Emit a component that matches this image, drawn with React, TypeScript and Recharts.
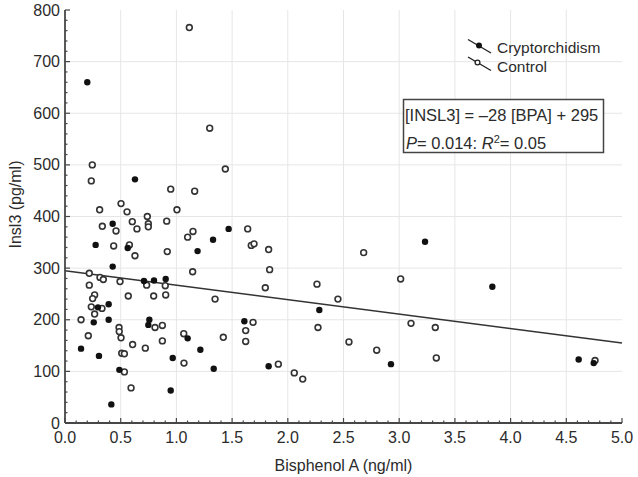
import React from "react";
import {
  ScatterChart,
  Scatter,
  XAxis,
  YAxis,
  CartesianGrid,
  ReferenceLine,
} from "recharts";

// Bisphenol A (ng/ml) vs Insl3 (pg/ml)
const cryptorchidism: [number, number][] = [
  [0.2, 660], [0.628, 472], [0.428, 386], [0.275, 345], [0.563, 339], [1.19, 333],
  [0.428, 303], [0.709, 275], [0.799, 276], [0.904, 279], [0.296, 224], [0.392, 230],
  [0.258, 195], [0.392, 200], [0.144, 144], [0.305, 130], [0.757, 200], [0.748, 190],
  [0.488, 103], [0.416, 36], [0.967, 126], [0.949, 63], [1.101, 164], [1.469, 376],
  [1.329, 355], [1.61, 197], [1.215, 142], [1.335, 105], [1.828, 110], [2.283, 219],
  [3.232, 351], [3.836, 264], [2.926, 114], [4.611, 123], [4.746, 116],
];

const control: [number, number][] = [
  [1.116, 766], [0.245, 500], [0.236, 469], [0.949, 453], [1.164, 449], [0.503, 425],
  [0.311, 413], [0.557, 409], [1.005, 413], [0.739, 400], [0.604, 390], [0.335, 381],
  [0.458, 372], [0.646, 376], [0.748, 386], [0.748, 380], [0.913, 391], [0.437, 343],
  [0.578, 345], [0.628, 324], [0.918, 332], [1.101, 360], [1.149, 371], [1.146, 293],
  [0.218, 290], [0.218, 267], [0.314, 282], [0.344, 278], [0.494, 274], [0.733, 267],
  [0.9, 266], [0.568, 246], [0.796, 246], [0.904, 248], [0.266, 248], [0.248, 241],
  [0.236, 225], [0.332, 222], [0.266, 211], [0.144, 200], [0.209, 169], [0.485, 185],
  [0.487, 177], [0.503, 165], [0.808, 185], [0.874, 189], [0.874, 159], [0.607, 152],
  [0.509, 135], [0.533, 134], [0.721, 145], [0.533, 99], [0.593, 68], [1.068, 116],
  [1.066, 173], [1.299, 571], [1.439, 492], [1.64, 376], [1.672, 344], [1.697, 347],
  [1.828, 336], [1.837, 297], [1.798, 262], [1.347, 240], [2.262, 269], [2.45, 240],
  [2.271, 185], [1.688, 195], [1.622, 179], [1.622, 158], [1.421, 166], [1.915, 114],
  [2.058, 97], [2.134, 85], [2.681, 330], [3.013, 279], [3.106, 193], [3.324, 185],
  [2.549, 157], [2.798, 141], [3.333, 126], [4.758, 121],
];

// Regression: [INSL3] = -28 [BPA] + 295
const regressionSlope = -28;
const regressionIntercept = 295;

const xMajorTicks = [0, 0.5, 1, 1.5, 2, 2.5, 3, 3.5, 4, 4.5, 5];
const yMajorTicks = [0, 100, 200, 300, 400, 500, 600, 700, 800];
const xMinorStep = 0.1;
const yMinorStep = 20;

const xDomain: [number, number] = [0, 5];
const yDomain: [number, number] = [0, 800];

const seriesNames = ["Cryptorchidism", "Control"];
const equationText = "[INSL3] = \u201328 [BPA] + 295";
const pValue = "0.014";
const r2Value = "0.05";

const buildTicks = (min: number, max: number, step: number) => {
  const out: number[] = [];
  const n = Math.round((max - min) / step);
  for (let i = 0; i <= n; i++) out.push(Math.round((min + i * step) * 1000) / 1000);
  return out;
};
const xAllTicks = buildTicks(xDomain[0], xDomain[1], xMinorStep);
const yAllTicks = buildTicks(yDomain[0], yDomain[1], yMinorStep);

const isMajor = (v: number, majors: number[]) => majors.some((m) => Math.abs(m - v) < 1e-6);

const AXIS = "#474747";
const TEXT = "#2b2b2b";
const FONT = "'Liberation Sans', Arial, sans-serif";
const MAJ = 5;
const MIN = 2.5;

const BottomTick = (props: any) => {
  const { x, y, payload } = props;
  const v = payload.value;
  const major = isMajor(v, xMajorTicks);
  return (
    <g>
      <line x1={x} y1={y} x2={x} y2={y - (major ? MAJ : MIN)} stroke={AXIS} strokeWidth={1.2} />
      {major && (
        <text x={x} y={y + 20} textAnchor="middle" fontSize={16} fill={TEXT} fontFamily={FONT}>
          {v.toFixed(1)}
        </text>
      )}
    </g>
  );
};

const TopTick = (props: any) => {
  const { x, y, payload } = props;
  const major = isMajor(payload.value, xMajorTicks);
  return <line x1={x} y1={y} x2={x} y2={y + (major ? MAJ : MIN)} stroke={AXIS} strokeWidth={1.2} />;
};

const LeftTick = (props: any) => {
  const { x, y, payload } = props;
  const v = payload.value;
  const major = isMajor(v, yMajorTicks);
  return (
    <g>
      <line x1={x} y1={y} x2={x + (major ? MAJ : MIN)} y2={y} stroke={AXIS} strokeWidth={1.2} />
      {major && (
        <text x={x - 5} y={y + 5.5} textAnchor="end" fontSize={16} fill={TEXT} fontFamily={FONT}>
          {v}
        </text>
      )}
    </g>
  );
};

const RightTick = (props: any) => {
  const { x, y, payload } = props;
  const major = isMajor(payload.value, yMajorTicks);
  return <line x1={x} y1={y} x2={x - (major ? MAJ : MIN)} y2={y} stroke={AXIS} strokeWidth={1.2} />;
};

const FilledDot = (props: any) => {
  const { cx, cy } = props;
  if (cx == null || cy == null) return null;
  return <circle cx={cx} cy={cy} r={3.2} fill="#111" stroke="none" />;
};

const OpenDot = (props: any) => {
  const { cx, cy } = props;
  if (cx == null || cy == null) return null;
  return <circle cx={cx} cy={cy} r={2.9} fill="#fff" stroke="#333" strokeWidth={1.6} />;
};

const cryptData = cryptorchidism.map(([x, y]) => ({ x, y }));
const controlData = control.map(([x, y]) => ({ x, y }));

const regSegment = [
  { x: xDomain[0], y: regressionIntercept + regressionSlope * xDomain[0] },
  { x: xDomain[1], y: regressionIntercept + regressionSlope * xDomain[1] },
];

const YLabel = (props: any) => {
  const vb = props.viewBox || {};
  const cy = (vb.y || 0) + (vb.height || 0) / 2 - 12;
  return (
    <text
      x={15}
      y={cy}
      transform={`rotate(-90, 15, ${cy})`}
      textAnchor="middle"
      dominantBaseline="central"
      fontSize={16}
      fill={TEXT}
      fontFamily={FONT}
    >
      Insl3 (pg/ml)
    </text>
  );
};

export default function App() {
  return (
    <div style={{ position: "absolute", left: 0, top: 0, width: 638, height: 477, background: "#fff" }}>
      <ScatterChart width={638} height={477} margin={{ top: 10, right: 16, bottom: 0, left: 0 }}>
        <CartesianGrid
          stroke="#e6e6e6"
          strokeWidth={1}
          verticalValues={xMajorTicks.slice(1, -1)}
          horizontalValues={yMajorTicks.slice(1, -1)}
        />
        <XAxis
          dataKey="x"
          type="number"
          domain={xDomain}
          ticks={xAllTicks}
          interval={0}
          height={54}
          tickSize={0}
          tickMargin={0}
          tickLine={false}
          tick={<BottomTick />}
          axisLine={{ stroke: AXIS, strokeWidth: 1.8 }}
          label={{
            value: "Bisphenol A (ng/ml)",
            position: "insideBottom",
            offset: 6,
            fontSize: 16,
            fill: TEXT,
            fontFamily: FONT,
          }}
        />
        <XAxis
          xAxisId="top"
          orientation="top"
          type="number"
          domain={xDomain}
          ticks={xAllTicks}
          interval={0}
          height={0}
          tickSize={0}
          tickMargin={0}
          tickLine={false}
          tick={<TopTick />}
          axisLine={{ stroke: AXIS, strokeWidth: 1.8 }}
        />
        <YAxis
          dataKey="y"
          type="number"
          domain={yDomain}
          ticks={yAllTicks}
          interval={0}
          width={65}
          tickSize={0}
          tickMargin={0}
          tickLine={false}
          tick={<LeftTick />}
          axisLine={{ stroke: AXIS, strokeWidth: 1.8 }}
          label={{ content: <YLabel /> }}
        />
        <YAxis
          yAxisId="right"
          orientation="right"
          type="number"
          domain={yDomain}
          ticks={yAllTicks}
          interval={0}
          width={0}
          tickSize={0}
          tickMargin={0}
          tickLine={false}
          tick={<RightTick />}
          axisLine={{ stroke: AXIS, strokeWidth: 1.8 }}
        />
        <ReferenceLine segment={regSegment} stroke="#333" strokeWidth={1.6} ifOverflow="visible" />
        <Scatter name={seriesNames[1]} data={controlData} shape={<OpenDot />} isAnimationActive={false} />
        <Scatter name={seriesNames[0]} data={cryptData} shape={<FilledDot />} isAnimationActive={false} />
      </ScatterChart>
      <svg
        width={638}
        height={477}
        style={{ position: "absolute", left: 0, top: 0, pointerEvents: "none" }}
        fontFamily={FONT}
      >
        {/* legend */}
        <line x1={468} y1={39.5} x2={491} y2={53} stroke="#222" strokeWidth={1.4} />
        <circle cx={479} cy={45.5} r={3} fill="#111" />
        <text x={497} y={53} fontSize={15.5} fill={TEXT}>{seriesNames[0]}</text>
        <line x1={468} y1={57} x2={491} y2={70.5} stroke="#222" strokeWidth={1.4} />
        <circle cx={477.5} cy={62.5} r={2.4} fill="#fff" stroke="#222" strokeWidth={1.3} />
        <text x={497} y={72} fontSize={15.5} fill={TEXT}>{seriesNames[1]}</text>
        {/* annotation box */}
        <rect x={403.5} y={99.5} width={200} height={53} fill="#fff" stroke="#444" strokeWidth={1.5} />
        <text x={405} y={120.5} fontSize={16.5} fill={TEXT}>{equationText}</text>
        <text x={406} y={148.5} fontSize={16.5} fill={TEXT}>
          <tspan fontStyle="italic">P</tspan>
          <tspan>{`= ${pValue}: `}</tspan>
          <tspan fontStyle="italic">R</tspan>
          <tspan fontSize={11} dy={-6}>2</tspan>
          <tspan dy={6}>{`= ${r2Value}`}</tspan>
        </text>
      </svg>
    </div>
  );
}
